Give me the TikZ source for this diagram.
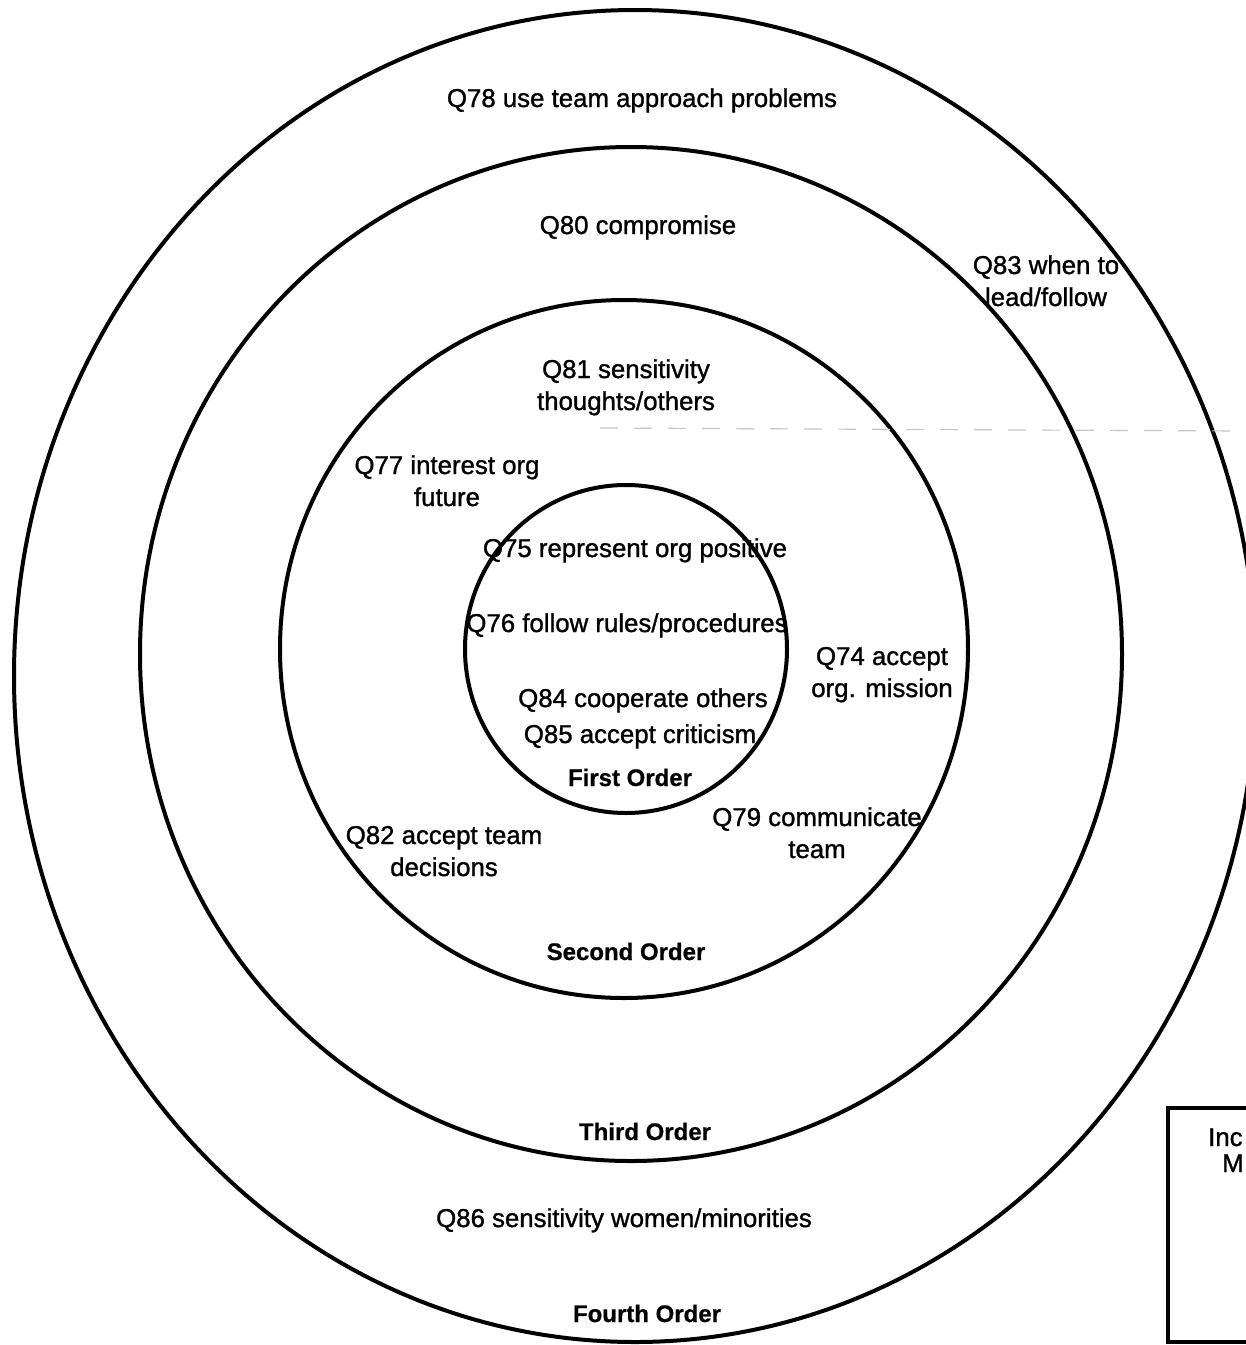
\documentclass[tikz,border=0pt]{standalone}
\usepackage{fontspec}
\setmainfont{Liberation Sans}[FakeBold=1.2]
\newfontfamily\ordfont{Liberation Sans}[FakeBold=0.6]
\begin{document}
\begin{tikzpicture}[x=1pt,y=-1pt,
  ring/.style={line width=4pt},
  lbl/.style={font=\fontsize{25.8}{32}\selectfont, inner sep=0pt, anchor=base, align=center},
  ord/.style={font=\ordfont\bfseries\fontsize{24}{32}\selectfont, inner sep=0pt, anchor=base},
  scan/.style={gray!45, line width=1.2pt, dash pattern=on 18pt off 16pt}]
\useasboundingbox (0,0) rectangle (1246,1345);
\clip (0,0) rectangle (1246,1345);
\fill[white] (0,0) rectangle (1246,1345);
% rings
\coordinate (c4) at (635,676);
\coordinate (c3) at (631,654);
\coordinate (c2) at (624,649);
\coordinate (c1) at (626,649);
\draw[ring] (c4) ellipse [x radius=621, y radius=666];
\draw[ring] (c3) ellipse [x radius=491, y radius=507];
\draw[ring] (c2) ellipse [x radius=344, y radius=349];
\draw[ring] (c1) ellipse [x radius=161, y radius=164];
% faint scan line
\coordinate (sa) at (600,428);
\coordinate (sb) at (1246,431);
\draw[scan] (sa) -- (sb);
% fourth order band
\node[lbl] (q78) at (642,107) {Q78 use team approach problems};
\node[lbl] (q83) at (1046,306) {Q83 when to\\lead/follow};
\node[lbl] (q86) at (624,1227) {Q86 sensitivity women/minorities};
\node[ord] (o4) at (647,1322) {Fourth Order};
% third order band
\node[lbl] (q80) at (638,234) {Q80 compromise};
\node[ord] (o3) at (645,1140) {Third Order};
% second order band
\node[lbl] (q81) at (626,410) {Q81 sensitivity\\thoughts/others};
\node[lbl] (q77) at (447,506) {Q77 interest org\\future};
\node[lbl] (q74) at (882,697) {Q74 accept\\org. mission};
\node[lbl] (q79) at (817,858) {Q79 communicate\\team};
\node[lbl] (q82) at (444,876) {Q82 accept team\\decisions};
\node[ord] (o2) at (626,960) {Second Order};
% first order
\node[lbl] (q75) at (635,557) {Q75 represent org positive};
\node[lbl] (q76) at (627,632) {Q76 follow rules/procedures};
\node[lbl] (q84) at (643,707) {Q84 cooperate others};
\node[lbl] (q85) at (640,743) {Q85 accept criticism};
\node[ord] (o1) at (630,786) {First Order};
% legend box (cut off at right edge)
\draw[line width=4pt] (1168,1108) rectangle (1270,1342);
\node[lbl, anchor=base west] (leg1) at (1208,1146) {Inc};
\node[lbl, anchor=base west] (leg2) at (1222,1172) {M};
\end{tikzpicture}
\end{document}
